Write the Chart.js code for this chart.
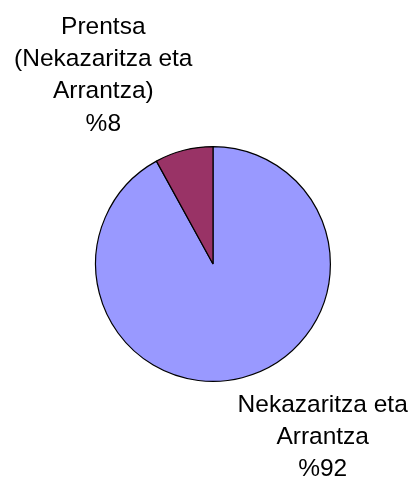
<!DOCTYPE html>
<html>
<head>
<meta charset="utf-8">
<script src="https://cdn.jsdelivr.net/npm/chart.js@4"></script>
<style>
  html, body { margin: 0; padding: 0; background: #fff; }
  #wrap { width: 415px; height: 480px; }
</style>
</head>
<body>
<div id="wrap"><canvas id="pie" width="415" height="480"></canvas></div>
<script>
const categories = ['Nekazaritza eta Arrantza', 'Prentsa (Nekazaritza eta Arrantza)'];
const labelLines = [
  ['Nekazaritza eta', 'Arrantza', '%92'],
  ['Prentsa', '(Nekazaritza eta', 'Arrantza)', '%8']
];
const shares = [92, 8];
const sliceColors = ['#9999FF', '#993366'];

// label placement relative to the slice's outer mid point (baseline gap)
const labelShift = [{ dx: 80.5, gap: 34 }, { dx: -80.5, gap: 19.5 }];
const lineHeight = 32.3;

const sliceLabels = {
  id: 'sliceLabels',
  afterDraw(chart) {
    const ctx = chart.ctx;
    const arcs = chart.getDatasetMeta(0).data;
    ctx.save();
    ctx.font = '24.5px "Liberation Sans", Arial, sans-serif';
    ctx.fillStyle = '#000';
    ctx.textAlign = 'center';
    ctx.textBaseline = 'alphabetic';
    arcs.forEach((arc, i) => {
      const p = arc.getProps(['x', 'y', 'startAngle', 'endAngle', 'outerRadius'], true);
      const mid = (p.startAngle + p.endAngle) / 2;
      const ox = p.x + Math.cos(mid) * p.outerRadius;
      const oy = p.y + Math.sin(mid) * p.outerRadius;
      const lines = labelLines[i];
      const cx = ox + labelShift[i].dx;
      let y0;
      if (oy < p.y) {
        y0 = oy - labelShift[i].gap - (lines.length - 1) * lineHeight;
      } else {
        y0 = oy + labelShift[i].gap;
      }
      lines.forEach((t, k) => ctx.fillText(t, cx, y0 + k * lineHeight));
    });
    ctx.restore();
  }
};

new Chart(document.getElementById('pie'), {
  type: 'pie',
  data: {
    labels: categories,
    datasets: [{
      data: shares,
      backgroundColor: sliceColors,
      borderColor: '#000',
      borderWidth: 1.2
    }]
  },
  options: {
    responsive: false,
    animation: false,
    layout: { padding: { left: 95, right: 84, top: 146, bottom: 98 } },
    plugins: {
      legend: { display: false },
      tooltip: { enabled: false }
    }
  },
  plugins: [sliceLabels]
});
</script>
</body>
</html>
